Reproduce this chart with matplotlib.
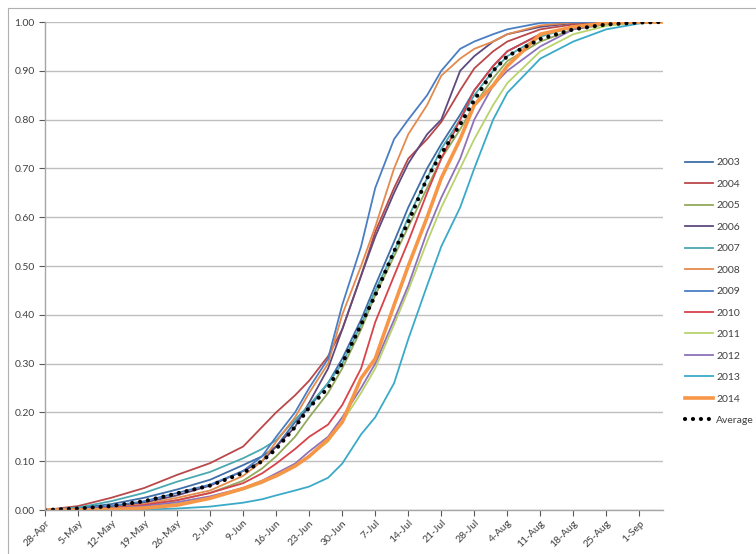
import matplotlib
matplotlib.use("Agg")
import matplotlib.pyplot as plt
from matplotlib.lines import Line2D
import numpy as np
import pandas as pd

plt.rcParams["font.family"] = ["Lato", "DejaVu Sans"]

# days after 28-Apr at which the curves were read
sample_days = [0, 7, 14, 21, 28, 35, 42, 46, 49, 53, 56, 60, 63, 67, 70,
               74, 77, 81, 84, 88, 91, 95, 98, 105, 112, 119, 126, 131]

y2003 = [0, 0.004, 0.012, 0.025, 0.042, 0.062, 0.092, 0.11, 0.13, 0.18, 0.21, 0.26, 0.31, 0.39,
         0.46, 0.55, 0.62, 0.70, 0.75, 0.81, 0.86, 0.91, 0.94, 0.975, 0.99, 0.998, 1.0, 1.0]
y2004 = [0, 0.008, 0.025, 0.045, 0.072, 0.096, 0.13, 0.17, 0.20, 0.235, 0.265, 0.315, 0.37, 0.48,
         0.57, 0.66, 0.72, 0.76, 0.795, 0.86, 0.905, 0.94, 0.96, 0.985, 0.995, 0.999, 1.0, 1.0]
y2005 = [0, 0.001, 0.004, 0.01, 0.02, 0.035, 0.06, 0.085, 0.11, 0.15, 0.19, 0.24, 0.29, 0.37,
         0.44, 0.52, 0.58, 0.66, 0.72, 0.78, 0.83, 0.885, 0.92, 0.96, 0.985, 0.995, 1.0, 1.0]
y2006 = [0, 0.002, 0.006, 0.015, 0.03, 0.05, 0.08, 0.10, 0.13, 0.17, 0.22, 0.29, 0.37, 0.48,
         0.56, 0.65, 0.71, 0.77, 0.80, 0.90, 0.93, 0.96, 0.975, 0.99, 0.998, 1.0, 1.0, 1.0]
y2007 = [0, 0.005, 0.018, 0.035, 0.058, 0.078, 0.106, 0.125, 0.143, 0.185, 0.215, 0.26, 0.30, 0.38,
         0.45, 0.53, 0.60, 0.68, 0.74, 0.80, 0.85, 0.90, 0.93, 0.97, 0.99, 0.997, 1.0, 1.0]
y2008 = [0, 0.001, 0.005, 0.012, 0.025, 0.04, 0.07, 0.10, 0.14, 0.19, 0.24, 0.30, 0.40, 0.50,
         0.58, 0.70, 0.77, 0.83, 0.89, 0.925, 0.945, 0.96, 0.975, 0.993, 0.999, 1.0, 1.0, 1.0]
y2009 = [0, 0.002, 0.008, 0.018, 0.035, 0.052, 0.08, 0.11, 0.15, 0.20, 0.25, 0.31, 0.42, 0.54,
         0.66, 0.76, 0.80, 0.85, 0.90, 0.945, 0.96, 0.975, 0.985, 0.998, 1.0, 1.0, 1.0, 1.0]
y2010 = [0, 0.001, 0.004, 0.01, 0.02, 0.035, 0.055, 0.075, 0.095, 0.125, 0.15, 0.175, 0.215, 0.29,
         0.385, 0.48, 0.55, 0.65, 0.72, 0.80, 0.86, 0.91, 0.94, 0.975, 0.99, 0.998, 1.0, 1.0]
y2011 = [0, 0, 0.002, 0.006, 0.013, 0.025, 0.042, 0.055, 0.07, 0.09, 0.11, 0.14, 0.18, 0.24,
         0.29, 0.38, 0.45, 0.55, 0.62, 0.70, 0.76, 0.83, 0.875, 0.94, 0.975, 0.992, 0.999, 1.0]
y2012 = [0, 0.001, 0.003, 0.008, 0.016, 0.028, 0.045, 0.06, 0.075, 0.095, 0.12, 0.15, 0.19, 0.25,
         0.30, 0.39, 0.46, 0.57, 0.64, 0.72, 0.80, 0.87, 0.90, 0.95, 0.985, 0.997, 1.0, 1.0]
y2013 = [0, 0, 0, 0.001, 0.003, 0.007, 0.015, 0.022, 0.03, 0.04, 0.048, 0.066, 0.095, 0.155,
         0.19, 0.26, 0.35, 0.46, 0.54, 0.62, 0.70, 0.80, 0.855, 0.925, 0.96, 0.985, 0.997, 1.0]
y2014 = [0, 0, 0.001, 0.004, 0.01, 0.024, 0.044, 0.058, 0.07, 0.09, 0.11, 0.145, 0.18, 0.27,
         0.31, 0.42, 0.50, 0.60, 0.68, 0.76, 0.83, 0.87, 0.91, 0.975, 0.99, 0.998, 1.0, 1.0]
average = [0, 0.003, 0.008, 0.018, 0.034, 0.05, 0.076, 0.10, 0.125, 0.17, 0.21, 0.25, 0.30, 0.38,
           0.44, 0.53, 0.59, 0.68, 0.73, 0.79, 0.84, 0.90, 0.93, 0.965, 0.985, 0.995, 0.999, 1.0]

years = ["2003", "2004", "2005", "2006", "2007", "2008",
         "2009", "2010", "2011", "2012", "2013", "2014"]
series = [y2003, y2004, y2005, y2006, y2007, y2008,
          y2009, y2010, y2011, y2012, y2013, y2014]
colors = ["#3f6ea8", "#b9484a", "#93a95c", "#5e4a7e", "#4aa8b0", "#e48a4c",
          "#4a7ec4", "#d8424a", "#b8d36d", "#8e72b8", "#3aaac8", "#f79646"]

start = pd.Timestamp("2014-04-28")
dates = start + pd.to_timedelta(sample_days, unit="D")
tick_dates = start + pd.to_timedelta(np.arange(0, 127, 7), unit="D")
tick_labels = [f"{d.day}-{d:%b}" for d in tick_dates]

fig = plt.figure(figsize=(7.56, 5.54), dpi=100)
ax = fig.add_axes([45 / 756, 1 - 510 / 554, 618 / 756, 488 / 554])

for year, vals, col in zip(years, series, colors):
    lw = 2.6 if year == "2014" else 1.3
    ax.plot(dates, vals, color=col, lw=lw, label=year)

ax.plot(dates, average, color="black", lw=3, linestyle=(0, (0.01, 1.9)),
        dash_capstyle="round", label="Average")

ax.set_xlim(start, start + pd.Timedelta(days=131))
ax.set_ylim(0, 1)
ax.set_yticks(np.arange(0, 1.01, 0.1))
ax.set_yticklabels([f"{v:.2f}" for v in np.arange(0, 1.01, 0.1)])
ax.set_xticks(tick_dates)
ax.set_xticklabels(tick_labels, rotation=45, ha="right", va="top",
                   rotation_mode="anchor")
ax.tick_params(axis="both", labelsize=7.5, colors="#595959", labelcolor="#404040",
               length=4, width=0.8)
ax.tick_params(axis="x", pad=2)
ax.grid(axis="y", color="#bfbfbf", lw=1)
ax.set_axisbelow(True)
for s in ["top", "right"]:
    ax.spines[s].set_visible(False)
for s in ["left", "bottom"]:
    ax.spines[s].set_color("#a6a6a6")
    ax.spines[s].set_linewidth(1)

fig.legend(loc="upper left", bbox_to_anchor=(685 / 756, 1 - 158 / 554),
           frameon=False, fontsize=7.5, labelspacing=1.17, handlelength=2.7,
           handletextpad=0.3, borderpad=0, borderaxespad=0, labelcolor="#404040")

fig.add_artist(Line2D([8 / 756, 8 / 756, 1.0], [0, 1 - 8 / 554, 1 - 8 / 554],
                      transform=fig.transFigure, color="#b0b0b0", lw=0.8))

fig.savefig("out.png", dpi=100)
